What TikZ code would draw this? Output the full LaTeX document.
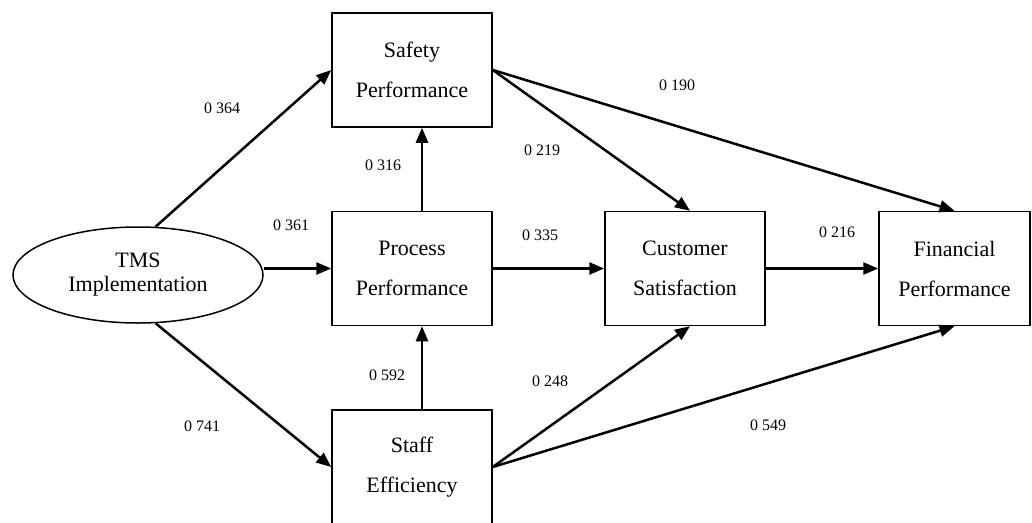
\documentclass[tikz,border=0pt]{standalone}
\usepackage{fontspec}
\setmainfont{Liberation Serif}
\usetikzlibrary{arrows.meta,shapes.geometric}
\begin{document}
\begin{tikzpicture}[x=1pt,y=-1pt,
  box/.style={draw,line width=1.5pt,minimum width=160pt,minimum height=114pt,inner sep=0pt,align=center,font=\fontsize{22}{40}\selectfont},
  oval/.style={draw,line width=1.5pt,ellipse,minimum width=250pt,minimum height=96pt,inner sep=0pt,align=center,font=\fontsize{22}{24}\selectfont},
  arr/.style={line width=2.5pt,-{Triangle[length=15pt,width=12pt]}},
  lab/.style={font=\fontsize{16}{18}\selectfont,inner sep=0pt}]
\useasboundingbox (0,0) rectangle (1032,522);
\clip (0,0) rectangle (1032,522);
\node[oval] (tms) at (138,275) {TMS\\Implementation};
\node[box] (safety) at (412,70) {Safety\\Performance};
\node[box] (process) at (412,268.5) {Process\\Performance};
\node[box] (customer) at (685,268.5) {Customer\\Satisfaction};
\node[box,minimum width=151pt] (financial) at (954.5,268.5) {Financial\\Performance};
\node[box] (staff) at (412,467) {Staff\\Efficiency};
\draw[arr] (tms.70) -- (safety.west);
\draw[arr] (tms.east |- process.west) -- (process.west);
\draw[arr] (tms.-70) -- (staff.west);
\draw[arr] ([xshift=10pt]process.north) -- ([xshift=10pt]safety.south);
\draw[arr] ([xshift=10pt]staff.north) -- ([xshift=10pt]process.south);
\draw[arr] (process.east) -- (customer.west);
\draw[arr] (safety.east) -- ([xshift=5pt]customer.north);
\draw[arr] (safety.east) -- (financial.north);
\draw[arr] (customer.east) -- (financial.west);
\draw[arr] (staff.east) -- ([xshift=5pt]customer.south);
\draw[arr] (staff.east) -- (financial.south);
\node[lab] (l1) at (222,108) {0 364};
\node[lab] (l2) at (677,85) {0 190};
\node[lab] (l3) at (542,150) {0 219};
\node[lab] (l4) at (383,165) {0 316};
\node[lab] (l5) at (291,225) {0 361};
\node[lab] (l6) at (540,235) {0 335};
\node[lab] (l7) at (837,232) {0 216};
\node[lab] (l8) at (387,375) {0 592};
\node[lab] (l9) at (202,426) {0 741};
\node[lab] (l10) at (550,381) {0 248};
\node[lab] (l11) at (768,425) {0 549};
\end{tikzpicture}
\end{document}
